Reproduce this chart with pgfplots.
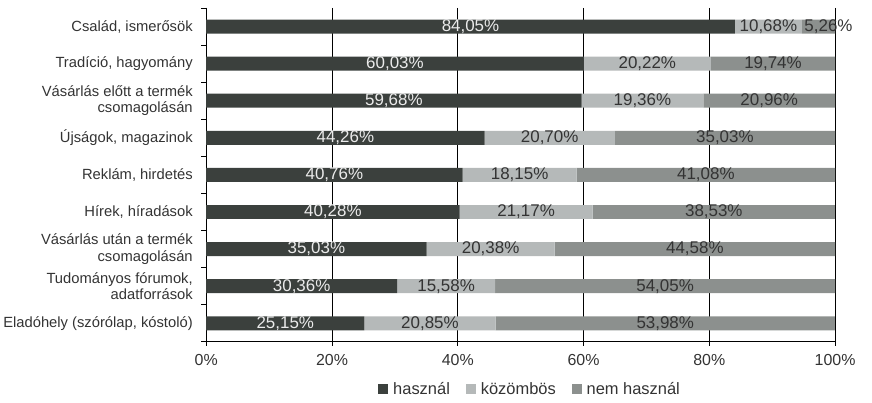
\documentclass[border=0pt]{standalone}
\usepackage{pgfplots}
\pgfplotsset{compat=1.18}
\usepackage{pgfplotstable}
\usepackage{fontspec}
\setmainfont{Liberation Sans}
\definecolor{cdark}{HTML}{3B403D}
\definecolor{clight}{HTML}{B5B9B9}
\definecolor{cmid}{HTML}{8C908E}
\definecolor{ctext}{HTML}{333333}
\pgfplotstableread{
i a b c
0 84.05 10.68 5.26
1 60.03 20.22 19.74
2 59.68 19.36 20.96
3 44.26 20.70 35.03
4 40.76 18.15 41.08
5 40.28 21.17 38.53
6 35.03 20.38 44.58
7 30.36 15.58 54.05
8 25.15 20.85 53.98
}\data
\begin{document}
\begin{tikzpicture}
\begin{axis}[
  scale only axis,
  width=631pt, height=335pt,
  xbar stacked,
  bar width=14pt,
  xmin=0, xmax=100,
  ymin=-0.5, ymax=8.5,
  y dir=reverse,
  axis x line*=bottom,
  axis y line*=left,
  axis line style={black, line width=0.8pt},
  /pgf/number format/assume math mode=true,
  xtick={0,20,40,60,80,100},
  xticklabels={0\%,20\%,40\%,60\%,80\%,100\%},
  xticklabel style={font=\fontsize{16}{18}\selectfont, text=ctext, yshift=-5pt},
  xmajorgrids,
  major grid style={black, line width=0.8pt},
  major x tick style={black, line width=0.8pt},
  major tick length=4pt,
  tick align=outside,
  ytick={0,...,8},
  major y tick style={draw=none},
  minor ytick={-0.5,0.5,...,8.5},
  minor y tick style={black, line width=0.8pt},
  minor tick length=5pt,
  yticklabels={
    {Család, ismerősök},
    {Tradíció, hagyomány},
    {Vásárlás előtt a termék\\csomagolásán},
    {Újságok, magazinok},
    {Reklám, hirdetés},
    {Hírek, híradások},
    {Vásárlás után a termék\\csomagolásán},
    {Tudományos fórumok,\\adatforrások},
    {Eladóhely (szórólap, kóstoló)}},
  yticklabel style={font=\fontsize{14.8}{16.5}\selectfont, align=right, text=ctext, xshift=-6pt},
  legend style={at={(0.515,-0.11)}, anchor=north, draw=none, fill=none,
    legend columns=-1, font=\fontsize{16.5}{18}\selectfont, text=ctext,
    /tikz/every odd column/.append style={column sep=3pt},
    /tikz/every even column/.append style={column sep=14pt}},
  legend image code/.code={\fill[#1] (0pt,-4.5pt) rectangle (10pt,5.5pt);},
  point meta=explicit,
  nodes near coords={\pgfmathprintnumber[fixed,fixed zerofill,precision=2,use comma,assume math mode=true]{\pgfplotspointmeta}\%},
  every node near coord/.append style={anchor=center, font=\fontsize{17}{18}\selectfont, inner sep=0pt},
]
\addplot[fill=cdark, draw=none, every node near coord/.append style={text=white!92!black}] table[x=a, y=i, meta=a] {\data};
\addplot[fill=clight, draw=none, every node near coord/.append style={text=ctext}] table[x=b, y=i, meta=b] {\data};
\addplot[fill=cmid, draw=none, visualization depends on={y \as \yy},
  every node near coord/.append style={text=ctext, xshift={(\yy<0.5)*10pt}}] table[x=c, y=i, meta=c] {\data};
\legend{használ, közömbös, nem használ}
\end{axis}
\path (current axis.north east) ++(37pt,8pt);
\path (current axis.south west) ++(-204pt,-61pt);
\end{tikzpicture}
\end{document}
